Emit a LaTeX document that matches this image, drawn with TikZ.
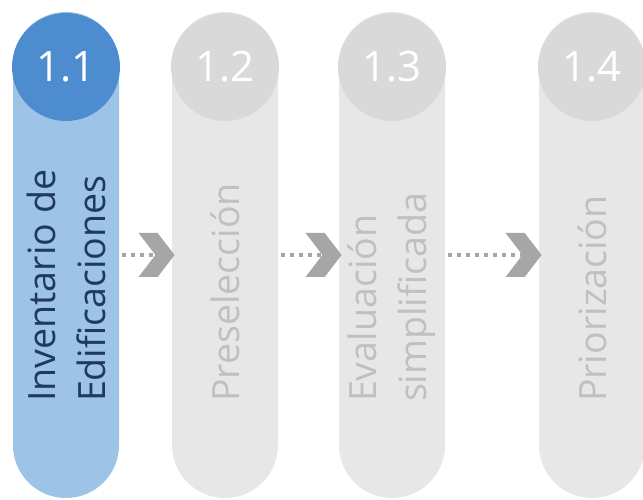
\documentclass[tikz,border=0pt]{standalone}
\usepackage{fontspec}
\setmainfont{Open Sans}
\usepackage{xcolor}
\usetikzlibrary{shapes.symbols, positioning}

\definecolor{stepblue}{RGB}{78,140,208}
\definecolor{paleblue}{RGB}{157,195,230}
\definecolor{navy}{RGB}{31,56,100}
\definecolor{stepgray}{RGB}{217,217,217}
\definecolor{palegray}{RGB}{231,231,231}
\definecolor{textgray}{RGB}{192,192,192}
\definecolor{arrowgray}{RGB}{166,166,166}

\begin{document}
\begin{tikzpicture}[
    x=1pt, y=1pt,
    pillar/.style={
        rectangle, minimum width=106pt, minimum height=486pt,
        rounded corners=52.9pt, inner sep=0pt
    },
    num/.style={
        circle, minimum size=108pt, inner sep=0pt, anchor=north,
        text=white, font=\fontsize{42}{42}\selectfont
    },
    phase/.style={
        rotate=90, anchor=west, align=left, inner sep=0pt,
        font=\fontsize{37.6}{50}\selectfont
    },
    chev/.style={
        signal, signal from=west, signal to=east, signal pointer angle=105,
        minimum width=36pt, minimum height=44pt, inner sep=0pt,
        fill=arrowgray
    },
    dotline/.style={
        draw=arrowgray, line width=3.5pt, dash pattern=on 4pt off 5pt,
        shorten <=3pt
    }
]

\useasboundingbox (0,0) rectangle (643,500);

% --- Pillars ---
\node[pillar, fill=paleblue] (p1) at (66,245) {};
\node[pillar, fill=palegray] (p2) at (225,245) {};
\node[pillar, fill=palegray] (p3) at (392,245) {};
\node[pillar, fill=palegray] (p4) at (592,245) {};

% --- Step numbers ---
\node[num, fill=stepblue] (n1) at ([yshift=-1pt]p1.north) {1.1};
\node[num, fill=stepgray] (n2) at ([yshift=-1pt]p2.north) {1.2};
\node[num, fill=stepgray] (n3) at ([yshift=-1pt]p3.north) {1.3};
\node[num, fill=stepgray] (n4) at ([yshift=-1pt]p4.north) {1.4};

% --- Chevrons ---
\node[chev, left=-3pt of p2] (c1) {};
\node[chev, left=-3pt of p3] (c2) {};
\node[chev, left=-3pt of p4] (c3) {};

% --- Dotted links ---
\draw[dotline] (p1) -- (c1);
\draw[dotline] (p2) -- (c2);
\draw[dotline] (p3) -- (c3);

% --- Phase names (rotated) ---
\node[phase, text=navy] (t1) at ([yshift=96pt]p1.south)
    {Inventario de\\Edificaciones};
\node[phase, text=textgray] (t2) at ([yshift=96pt]p2.south) {Preselección};
\node[phase, text=textgray] (t3) at ([yshift=96pt]p3.south)
    {Evaluación\\simplificada};
\node[phase, text=textgray] (t4) at ([yshift=96pt]p4.south) {Priorización};

\end{tikzpicture}
\end{document}
